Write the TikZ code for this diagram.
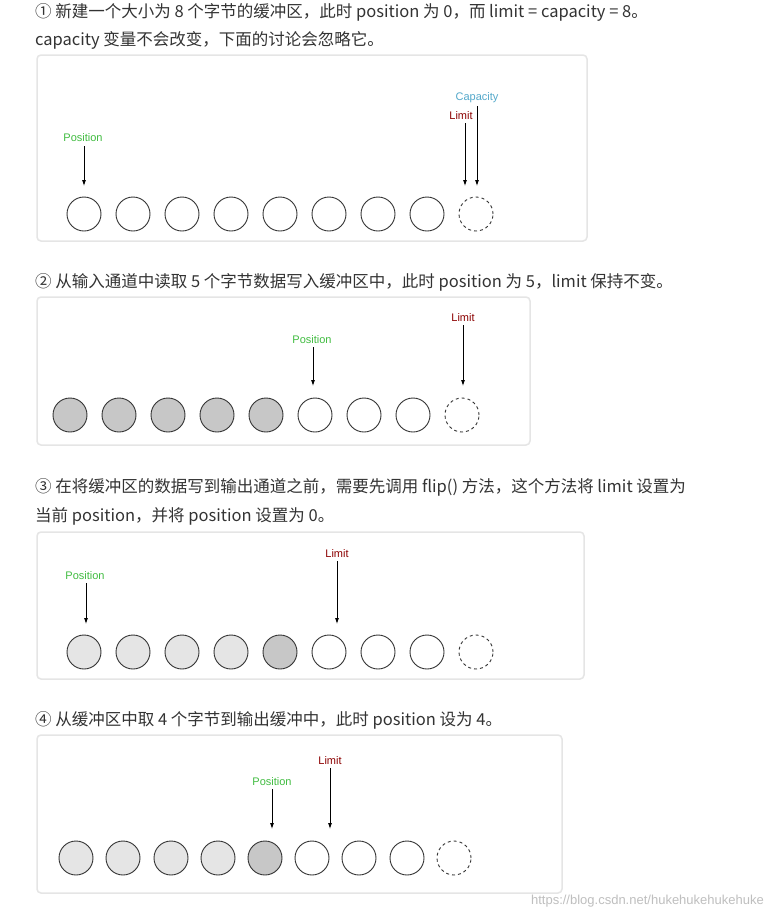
\documentclass[tikz,border=0pt]{standalone}
\usepackage{fontspec}
\usetikzlibrary{arrows.meta}
\setmainfont{Liberation Sans}
\newfontfamily\cjk{Noto Sans CJK SC}
\begin{document}
\begin{tikzpicture}[x=1pt,y=-1pt,
  panel/.style={draw=black!10,line width=1.5pt,rounded corners=4pt},
  cell/.style={circle,draw=black!80,line width=0.9pt,minimum size=34pt,inner sep=0pt},
  empt/.style={cell,fill=white},
  dark/.style={cell,fill=black!22},
  lite/.style={cell,fill=black!10},
  free/.style={cell,dashed,draw=black!80},
  lbl/.style={font=\fontsize{11}{12}\selectfont,inner sep=1pt},
  posl/.style={lbl,text=green!65!black!75},
  liml/.style={lbl,text=red!55!black},
  capl/.style={lbl,text=cyan!60!gray},
  arr/.style={-{Latex[length=6pt,width=4pt]},line width=0.8pt},
  desc/.style={anchor=west,font=\cjk\fontsize{16.5}{18}\selectfont,text=black!80,inner sep=0pt}]
\useasboundingbox (0,0) rectangle (770,919);
\fill[white] (0,0) rectangle (770,919);
% Panel 1
\node[desc] (t1a) at (35,12) {① 新建一个大小为 8 个字节的缓冲区，此时 position 为 0，而 limit = capacity = 8。};
\node[desc] (t1b) at (35,40) {capacity 变量不会改变，下面的讨论会忽略它。};
\draw[panel] (37,55) rectangle (587,241);
\foreach \i/\x in {1/84,2/133,3/182,4/231,5/280,6/329,7/378,8/427}
  \node[empt] (a\i) at (\x,214) {};
\node[free] (a9) at (476,214) {};
\node[posl] (ap) at (83,138) {Position};
\node[liml] (al) at (461,116) {Limit};
\node[capl] (ac) at (477,98) {Capacity};
\coordinate (alt) at (465,186); \coordinate (act) at (477,186); \coordinate (apt) at (84,186);
\draw[arr] (ap.south) ++(1,3) -- (apt);
\draw[arr] (al.south) ++(4,2) -- (alt);
\draw[arr] (ac.south) ++(0,2) -- (act);
% Panel 2
\node[desc] (t2) at (35,282) {② 从输入通道中读取 5 个字节数据写入缓冲区中，此时 position 为 5，limit 保持不变。};
\draw[panel] (37,297) rectangle (530,445);
\foreach \i/\x in {1/70,2/119,3/168,4/217,5/266}
  \node[dark] (b\i) at (\x,415) {};
\foreach \i/\x in {6/315,7/364,8/413}
  \node[empt] (b\i) at (\x,415) {};
\node[free] (b9) at (462,415) {};
\node[posl] (bp) at (312,340) {Position};
\node[liml] (bl) at (463,318) {Limit};
\coordinate (bpt) at (313,386); \coordinate (blt) at (463,386);
\draw[arr] (bp.south) ++(1,2) -- (bpt);
\draw[arr] (bl.south) ++(0,2) -- (blt);
% Panel 3
\node[desc] (t3a) at (35,487) {③ 在将缓冲区的数据写到输出通道之前，需要先调用 flip() 方法，这个方法将 limit 设置为};
\node[desc] (t3b) at (35,516) {当前 position，并将 position 设置为 0。};
\draw[panel] (37,532) rectangle (584,679);
\foreach \i/\x in {1/84,2/133,3/182,4/231}
  \node[lite] (c\i) at (\x,652) {};
\node[dark] (c5) at (280,652) {};
\foreach \i/\x in {6/329,7/378,8/427}
  \node[empt] (c\i) at (\x,652) {};
\node[free] (c9) at (476,652) {};
\node[posl] (cp) at (85,576) {Position};
\node[liml] (cl) at (337,554) {Limit};
\coordinate (cpt) at (86,624); \coordinate (clt) at (337,624);
\draw[arr] (cp.south) ++(1,2) -- (cpt);
\draw[arr] (cl.south) ++(0,2) -- (clt);
% Panel 4
\node[desc] (t4) at (35,720) {④ 从缓冲区中取 4 个字节到输出缓冲中，此时 position 设为 4。};
\draw[panel] (37,735) rectangle (562,893);
\foreach \i/\x in {1/76,2/123,3/171,4/218}
  \node[lite] (d\i) at (\x,858) {};
\node[dark] (d5) at (265,858) {};
\foreach \i/\x in {6/312,7/359,8/407}
  \node[empt] (d\i) at (\x,858) {};
\node[free] (d9) at (454,858) {};
\node[posl] (dp) at (272,782) {Position};
\node[liml] (dl) at (330,761) {Limit};
\coordinate (dpt) at (272,829); \coordinate (dlt) at (330,829);
\draw[arr] (dp.south) ++(0,2) -- (dpt);
\draw[arr] (dl.south) ++(0,2) -- (dlt);
\node[anchor=east,text=black!25,font=\fontsize{13}{14}\selectfont,inner sep=0pt] (wm) at (764,901) {https://blog.csdn.net/hukehukehukehuke};
\end{tikzpicture}
\end{document}
